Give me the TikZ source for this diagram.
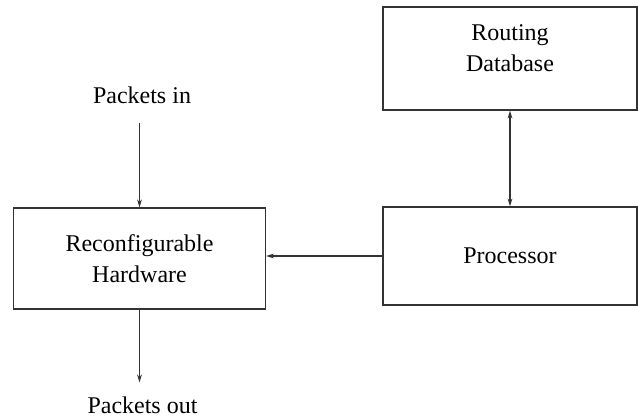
\documentclass[tikz,border=0pt]{standalone}
\usepackage{fontspec}
\setmainfont{Liberation Serif}
\usetikzlibrary{arrows.meta}

\tikzset{
    block/.style={draw=black!80, line width=0.6pt, minimum width=126pt, align=center,
        font=\fontsize{12}{15.5}\selectfont},
    lbl/.style={font=\fontsize{12}{15.5}\selectfont, align=center},
    link/.style={->, draw=black!80, line width=0.6pt}
}

\begin{document}
\begin{tikzpicture}[x=0.5pt, y=-0.5pt, >={Stealth[length=4pt,width=2.4pt]}]

    \useasboundingbox (0,0) rectangle (638,417);

    %% Boxes
    % Reconfigurable hardware
    \node[block, minimum height=50.5pt] (hw) at (139.5,258.5) {Reconfigurable\\Hardware};
    % Processor
    \node[block, minimum width=127pt, minimum height=49pt] (proc) at (510,256) {Processor};
    % Routing database
    \node[block, minimum width=127pt, minimum height=51.5pt] (db) at (510,58.5) {};
    \node[lbl] (dbtext) at (510,48.5) {Routing\\Database};

    % Labels
    \node[lbl] (pin) at (142,95) {Packets in};
    \node[lbl] (pout) at (142.5,405) {Packets out};

    %% Connectors
    \draw[link, shorten <=6pt] (pin.south -| hw) -- (hw.north);
    \draw[link, shorten >=3.5pt] (hw.south) -- (hw.south |- pout.north);
    \draw[link] (proc.west) -- (proc.west -| hw.east);
    \draw[link, <->] (db.south) -- (proc.north);

\end{tikzpicture}
\end{document}
